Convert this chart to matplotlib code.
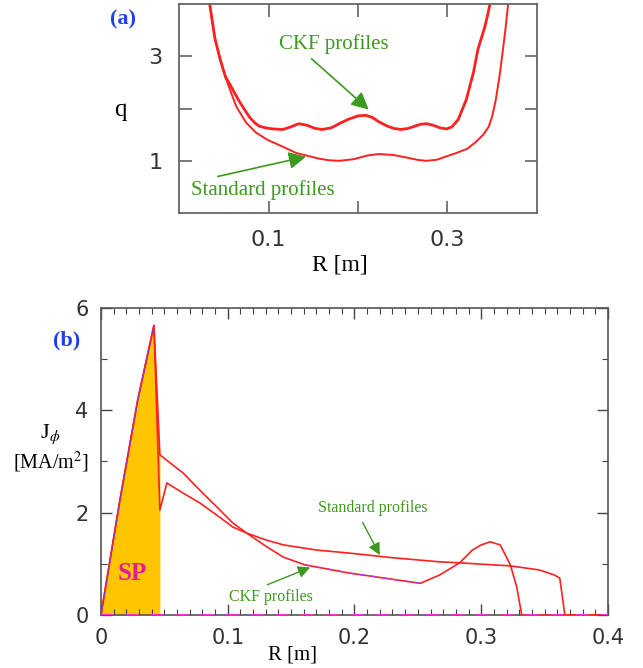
import numpy as np
import matplotlib.pyplot as plt
from matplotlib.ticker import MultipleLocator, FixedLocator, FixedFormatter

plt.rcParams['mathtext.fontset'] = 'stix'

# safety factor q(R), panel (a)
r_q_std = [0.034, 0.040, 0.046, 0.054, 0.060, 0.064, 0.075, 0.086, 0.099, 0.116, 0.131, 0.145,
           0.157, 0.168, 0.179, 0.195, 0.210, 0.223, 0.240, 0.255, 0.266, 0.276, 0.288, 0.298,
           0.310, 0.322, 0.331, 0.340, 0.346, 0.350, 0.354, 0.358, 0.362, 0.365, 0.368]
q_std = [4.03, 3.35, 2.94, 2.50, 2.22, 2.04, 1.73, 1.54, 1.40, 1.27, 1.15, 1.09,
         1.04, 1.01, 1.00, 1.03, 1.10, 1.13, 1.11, 1.06, 1.02, 1.00, 1.02, 1.08,
         1.15, 1.23, 1.35, 1.50, 1.65, 1.85, 2.17, 2.60, 3.13, 3.55, 4.04]

r_q_ckf = [0.034, 0.040, 0.046, 0.052, 0.057, 0.062, 0.068, 0.074, 0.079, 0.085, 0.090, 0.097,
           0.105, 0.116, 0.125, 0.134, 0.143, 0.152, 0.160, 0.170, 0.180, 0.190, 0.200, 0.209,
           0.216, 0.223, 0.232, 0.240, 0.248, 0.256, 0.263, 0.270, 0.277, 0.284, 0.292, 0.299,
           0.305, 0.312, 0.321, 0.329, 0.334, 0.342, 0.345, 0.348]
q_ckf = [4.03, 3.35, 2.94, 2.60, 2.46, 2.30, 2.12, 1.96, 1.83, 1.72, 1.66, 1.63,
         1.61, 1.60, 1.65, 1.71, 1.68, 1.62, 1.60, 1.63, 1.72, 1.80, 1.86, 1.87,
         1.83, 1.75, 1.67, 1.62, 1.60, 1.62, 1.66, 1.70, 1.71, 1.68, 1.63, 1.61,
         1.65, 1.79, 2.17, 2.69, 3.13, 3.58, 3.80, 4.04]

# toroidal current density J_phi(R), panel (b)
r_j_std = [0.0, 0.015, 0.029, 0.0418, 0.0465, 0.052, 0.065, 0.078, 0.0915, 0.104, 0.115,
           0.131, 0.144, 0.170, 0.196, 0.230, 0.267, 0.283, 0.323, 0.346, 0.358, 0.362,
           0.366, 0.400]
j_std = [0.0, 2.25, 4.20, 5.66, 2.05, 2.58, 2.38, 2.19, 1.95, 1.72, 1.60,
         1.46, 1.37, 1.27, 1.21, 1.12, 1.04, 1.02, 0.96, 0.88, 0.78, 0.72,
         0.0, 0.0]

r_j_ckf = [0.0, 0.015, 0.029, 0.0418, 0.0465, 0.065, 0.078, 0.0915, 0.104, 0.115, 0.131,
           0.144, 0.161, 0.196, 0.252, 0.267, 0.283, 0.293, 0.300, 0.307, 0.315, 0.323,
           0.328, 0.332, 0.400]
j_ckf = [0.0, 2.25, 4.20, 5.66, 3.13, 2.77, 2.44, 2.11, 1.80, 1.60, 1.33,
         1.13, 0.98, 0.82, 0.62, 0.78, 1.02, 1.27, 1.37, 1.43, 1.37, 0.98,
         0.55, 0.0, 0.0]

# seed current region
r_sp = [0.0, 0.015, 0.029, 0.0418, 0.0465]
j_sp = [0.0, 2.25, 4.20, 5.66, 3.13]

serif = 'Liberation Serif'
sans = 'DejaVu Sans'
green = '#3c9a1e'
red = '#ff2020'

fig = plt.figure(figsize=(6.43, 6.68), dpi=100)

# ---------------- (a) q profiles ----------------
ax1 = fig.add_axes([0.2784, 0.681, 0.5567, 0.313])
ax1.plot(r_q_ckf, q_ckf, color=red, lw=2.0)
ax1.plot(r_q_std, q_std, color=red, lw=1.4)
ax1.set_xlim(0, 0.4)
ax1.set_ylim(0, 4)
ax1.xaxis.set_major_locator(FixedLocator([0.1, 0.2, 0.3]))
ax1.xaxis.set_major_formatter(FixedFormatter(['0.1', '', '0.3']))
ax1.yaxis.set_major_locator(FixedLocator([1, 2, 3]))
ax1.yaxis.set_major_formatter(FixedFormatter(['1', '', '3']))
ax1.tick_params(direction='in', length=9, width=1.1, color='#555555',
                top=True, right=True, labelsize=16, labelcolor='#333333', pad=12)
for s in ax1.spines.values():
    s.set_color('#666666')
    s.set_linewidth(1.3)
for lab in ax1.get_xticklabels() + ax1.get_yticklabels():
    lab.set_family(sans)

ax1.annotate('CKF profiles', xy=(0.212, 1.98), xytext=(0.173, 3.23),
             color=green, fontsize=15, family=serif, ha='center', va='center',
             arrowprops=dict(arrowstyle='-|>', color=green, lw=1.2, mutation_scale=26,
                             shrinkA=2, shrinkB=0, relpos=(0.25, 0.0)))
ax1.annotate('Standard profiles', xy=(0.142, 1.08), xytext=(0.094, 0.44),
             color=green, fontsize=15, family=serif, ha='center', va='center',
             arrowprops=dict(arrowstyle='-|>', color=green, lw=1.2, mutation_scale=26,
                             shrinkA=3, shrinkB=0, relpos=(0.07, 1.0)))

fig.text(123 / 643, 1 - 19 / 668, '(a)', color='#2040f0', fontsize=16,
         fontweight='bold', family=serif, ha='center', va='center')
fig.text(120 / 643, 1 - 110 / 668, 'q', fontsize=18, family=serif,
         ha='center', va='center')
fig.text(340 / 643, 1 - 265 / 668, 'R [m]', fontsize=17, family=serif,
         ha='center', va='center')

# ---------------- (b) current density ----------------
ax2 = fig.add_axes([0.157, 0.0793, 0.7885, 0.4597])
ax2.fill_between(r_sp, j_sp, 0, color='#ffc600', lw=0, zorder=1)
ax2.plot(r_j_std, j_std, color=red, lw=1.2, zorder=3)
ax2.plot(r_j_ckf, j_ckf, color=red, lw=1.2, zorder=3)
ax2.plot(r_j_ckf[12:15], j_ckf[12:15], color='#9a40ff', lw=1.0, ls=(0, (4, 4)), zorder=4)
ax2.plot(r_sp[:4], j_sp[:4], color='#6040ff', lw=0.8, ls=(0, (3, 3)), zorder=4)
ax2.plot([0, 0.4], [0, 0], color='#ff30d0', lw=1.5, ls=(0, (6, 6)), zorder=4)
ax2.set_xlim(0, 0.4)
ax2.set_ylim(0, 6)
ax2.xaxis.set_major_locator(FixedLocator([0, 0.1, 0.2, 0.3, 0.4]))
ax2.xaxis.set_minor_locator(MultipleLocator(0.01))
ax2.xaxis.set_major_formatter(FixedFormatter(['0', '0.1', '0.2', '0.3', '0.4']))
ax2.yaxis.set_major_locator(MultipleLocator(2))
ax2.yaxis.set_minor_locator(MultipleLocator(1))
ax2.tick_params(which='both', direction='in', top=True, right=True, color='#444444')
ax2.tick_params(which='major', length=8, width=1.0, labelsize=15,
                labelcolor='#333333', pad=9)
ax2.tick_params(which='minor', length=4, width=0.8)
for s in ax2.spines.values():
    s.set_color('#555555')
    s.set_linewidth(1.2)
for lab in ax2.get_xticklabels() + ax2.get_yticklabels():
    lab.set_family(sans)

ax2.text(0.025, 0.82, 'SP', color='#e8179b', fontsize=18, fontweight='bold',
         family=serif, ha='center', va='center', zorder=5)
ax2.annotate('Standard profiles', xy=(0.220, 1.17), xytext=(0.2146, 2.09),
             color=green, fontsize=11.5, family=serif, ha='center', va='center',
             arrowprops=dict(arrowstyle='-|>', color=green, lw=1.0, mutation_scale=18,
                             shrinkA=3, shrinkB=0, relpos=(0.375, 0.0)))
ax2.annotate('CKF profiles', xy=(0.165, 0.93), xytext=(0.134, 0.35),
             color=green, fontsize=11.5, family=serif, ha='center', va='center',
             arrowprops=dict(arrowstyle='-|>', color=green, lw=1.0, mutation_scale=18,
                             shrinkA=3, shrinkB=0, relpos=(0.33, 1.0)))

fig.text(67 / 643, 1 - 340 / 668, '(b)', color='#2040f0', fontsize=16,
         fontweight='bold', family=serif, ha='center', va='center')
fig.text(50 / 643, 1 - 434 / 668, r'J$_{\phi}$', fontsize=16, family=serif,
         ha='center', va='center')
fig.text(51 / 643, 1 - 462 / 668, r'[MA/m$^2$]', fontsize=14.5, family=serif,
         ha='center', va='center')
fig.text(293 / 643, 1 - 655 / 668, 'R [m]', fontsize=15, family=serif,
         ha='center', va='center')

fig.savefig('out.png', dpi=100)
